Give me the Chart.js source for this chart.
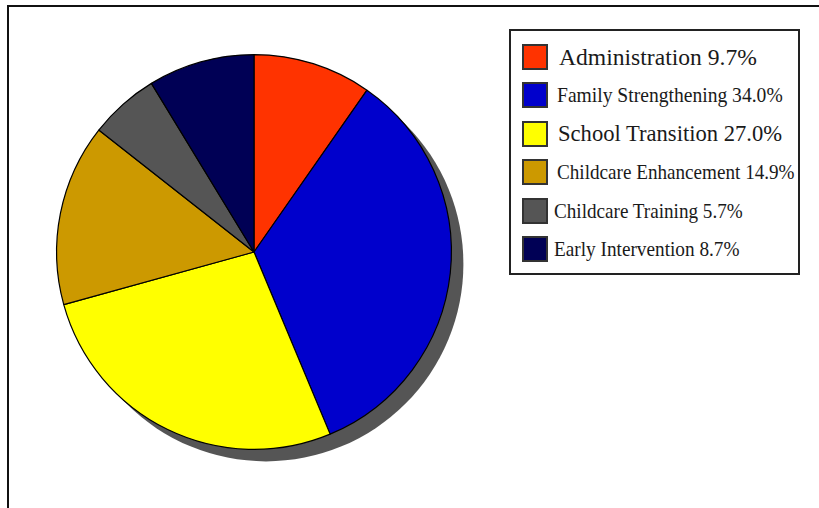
<!DOCTYPE html>
<html>
<head>
<meta charset="utf-8">
<script src="https://cdn.jsdelivr.net/npm/chart.js@4/dist/chart.umd.min.js"></script>
<style>
  html, body { margin: 0; padding: 0; background: #fff; }
  #wrap { position: relative; width: 819px; height: 508px; overflow: hidden; background: #fff; }
  #frame { position: absolute; left: 7px; top: 5px; width: 830px; height: 520px;
           border-left: 2px solid #111; border-top: 2px solid #111; box-sizing: border-box; }
  #chartBox { position: absolute; left: 0; top: 0; width: 819px; height: 508px; }
  #legend { position: absolute; left: 509px; top: 29px; width: 291px; height: 246px;
            border: 2px solid #222; box-sizing: border-box; background: #fff; }
  .row { position: absolute; left: 11px; height: 26px; display: flex; align-items: center; white-space: nowrap; }
  .sw { width: 22px; height: 22px; border: 2px solid #333; flex: none; }
  .txt { font-family: "Liberation Serif", "Times New Roman", serif; color: #1a1a1a; transform-origin: left center; display: inline-block; }
</style>
</head>
<body>
<div id="wrap">
  <div id="chartBox"><canvas id="c" width="819" height="508"></canvas></div>
  <div id="frame"></div>
  <div id="legend"></div>
</div>
<script>
const categories = ["Administration", "Family Strengthening", "School Transition",
                    "Childcare Enhancement", "Childcare Training", "Early Intervention"];
const shares = [9.7, 34.0, 27.0, 14.9, 5.7, 8.7];
const sliceColors = ["#FF3300", "#0000CC", "#FFFF00", "#CC9900", "#555555", "#000055"];

// legend text styling (per row)
const legendFontPx = [23.6, 22, 22.6, 22, 22, 22];
const legendScaleX = [1.0, 0.89, 1.0, 0.87, 0.87, 0.875];
const legendTextGap = [11, 9, 10, 9, 6, 6];

// Legend (HTML, real text)
const legendEl = document.getElementById('legend');
categories.forEach((name, i) => {
  const row = document.createElement('div');
  row.className = 'row';
  row.style.top = (13 + i * 38.4) + 'px';
  const sw = document.createElement('div');
  sw.className = 'sw';
  sw.style.background = sliceColors[i];
  const t = document.createElement('span');
  t.className = 'txt';
  t.style.fontSize = legendFontPx[i] + 'px';
  t.style.marginLeft = legendTextGap[i] + 'px';
  t.style.transform = 'scaleX(' + legendScaleX[i] + ')';
  t.textContent = name + ' ' + shares[i].toFixed(1) + '%';
  row.appendChild(sw);
  row.appendChild(t);
  legendEl.appendChild(row);
});

// Drop shadow under the pie, using the arc geometry computed by Chart.js
const pieShadow = {
  id: 'pieShadow',
  beforeDatasetsDraw(chart) {
    const meta = chart.getDatasetMeta(0);
    if (!meta.data.length) return;
    const a = meta.data[0];
    const ctx = chart.ctx;
    ctx.save();
    ctx.fillStyle = '#555555';
    ctx.beginPath();
    ctx.arc(a.x + 12, a.y + 12, a.outerRadius, 0, Math.PI * 2);
    ctx.fill();
    ctx.restore();
  }
};

new Chart(document.getElementById('c'), {
  type: 'pie',
  data: {
    labels: categories,
    datasets: [{
      data: shares,
      backgroundColor: sliceColors,
      borderColor: '#000000',
      borderWidth: 1.2,
      borderAlign: 'center'
    }]
  },
  options: {
    responsive: false,
    animation: false,
    devicePixelRatio: 1,
    layout: { padding: { left: 56, top: 54, bottom: 58, right: 367 } },
    plugins: { legend: { display: false }, tooltip: { enabled: false } }
  },
  plugins: [pieShadow]
});
</script>
</body>
</html>
